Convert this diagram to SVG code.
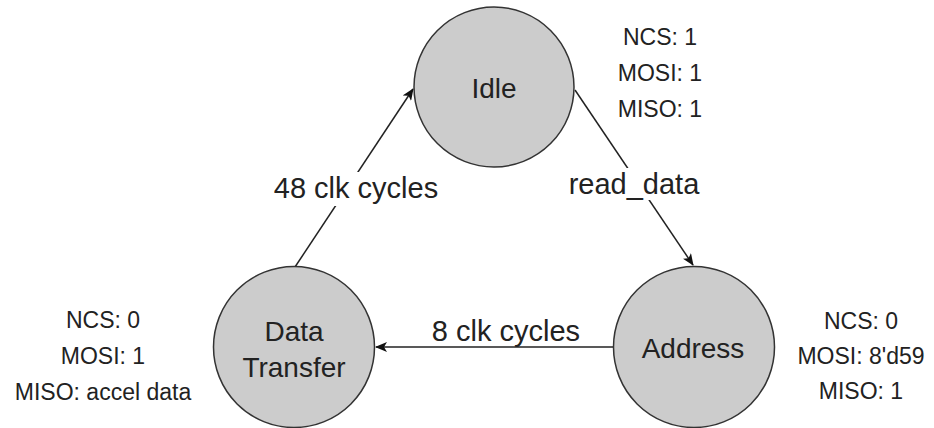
<svg xmlns="http://www.w3.org/2000/svg" width="934" height="428" viewBox="0 0 934 428">
  <style>
    .state { fill: #cccccc; stroke: #333333; stroke-width: 1.5; }
    .label { font-family: "Liberation Sans", Arial, sans-serif; font-size: 28px; fill: #222222; text-anchor: middle; }
    .edge-label { font-family: "Liberation Sans", Arial, sans-serif; font-size: 29px; fill: #222222; text-anchor: middle; }
    .note { font-family: "Liberation Sans", Arial, sans-serif; font-size: 23px; fill: #222222; text-anchor: middle; }
    .edge { fill: none; stroke: #222222; stroke-width: 1.5; }
  </style>
  <defs>
    <marker id="arrow" viewBox="0 0 12 10" refX="11" refY="5" markerWidth="12" markerHeight="10" markerUnits="userSpaceOnUse" orient="auto">
      <path d="M0,0 L12,5 L0,10 L3,5 Z" fill="#111111"/>
    </marker>
  </defs>
  <rect width="934" height="428" fill="#ffffff"/>

  <!-- transitions -->
  <g id="connectors">
    <path class="edge" d="M575,90 L693,265" marker-end="url(#arrow)"/>
    <path class="edge" d="M613,347 L376,347" marker-end="url(#arrow)"/>
    <path class="edge" d="M295,267 L413,89" marker-end="url(#arrow)"/>
    <rect x="564" y="168" width="140" height="32" fill="#ffffff"/>
    <text class="edge-label" x="634" y="194">read_data</text>
    <text class="edge-label" x="506" y="341">8 clk cycles</text>
    <rect x="266" y="172" width="180" height="34" fill="#ffffff"/>
    <text class="edge-label" x="356" y="198">48 clk cycles</text>
  </g>

  <g id="idle">
    <circle class="state" cx="494" cy="87" r="80"/>
    <text class="label" x="494" y="98">Idle</text>
    <text class="note" x="660" y="45">NCS: 1</text>
    <text class="note" x="660" y="81">MOSI: 1</text>
    <text class="note" x="660" y="117">MISO: 1</text>
  </g>

  <g id="address">
    <circle class="state" cx="694" cy="347" r="80.5"/>
    <text class="label" x="693" y="358">Address</text>
    <text class="note" x="861" y="329">NCS: 0</text>
    <text class="note" x="861" y="364">MOSI: 8'd59</text>
    <text class="note" x="861" y="399">MISO: 1</text>
  </g>

  <g id="data-transfer">
    <circle class="state" cx="294" cy="347" r="80.5"/>
    <text class="label" x="294" y="341">Data</text>
    <text class="label" x="294" y="377">Transfer</text>
    <text class="note" x="103" y="328">NCS: 0</text>
    <text class="note" x="103" y="364">MOSI: 1</text>
    <text class="note" x="103" y="400">MISO: accel data</text>
  </g>
</svg>
